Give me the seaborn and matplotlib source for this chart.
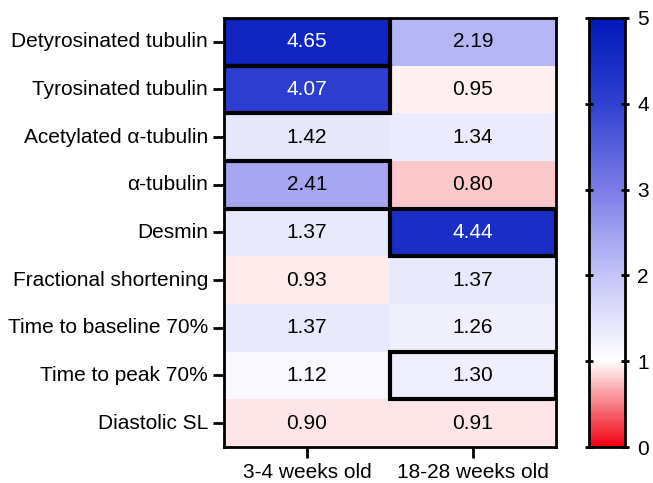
import matplotlib
matplotlib.use("Agg")
import matplotlib.pyplot as plt
import numpy as np
import pandas as pd
import seaborn as sns
from matplotlib.colors import LinearSegmentedColormap
from matplotlib.patches import Rectangle

# dados
rows = ["Detyrosinated tubulin", "Tyrosinated tubulin", "Acetylated α-tubulin",
        "α-tubulin", "Desmin", "Fractional shortening", "Time to baseline 70%",
        "Time to peak 70%", "Diastolic SL"]
cols = ["3-4 weeks old", "18-28 weeks old"]
young = [4.65, 4.07, 1.42, 2.41, 1.37, 0.93, 1.37, 1.12, 0.90]
old = [2.19, 0.95, 1.34, 0.80, 4.44, 1.37, 1.26, 1.30, 0.91]
# células destacadas (linha, coluna)
highlight = [(0, 0), (1, 0), (3, 0), (4, 1), (7, 1)]

df = pd.DataFrame({cols[0]: young, cols[1]: old}, index=rows)

cmap = LinearSegmentedColormap.from_list(
    "rwb",
    [(0.0, "#f00010"), (0.2, "#ffffff"), (0.4, "#c4c4f8"),
     (0.6, "#7c7ce8"), (0.8, "#3040d2"), (1.0, "#0018b8")])

plt.rcParams["font.family"] = ["Liberation Sans", "DejaVu Sans"]

fig = plt.figure(figsize=(6.53, 4.83), dpi=100)
ax = fig.add_axes([0.343, 0.0745, 0.508, 0.8885])
cax = fig.add_axes([0.902, 0.0745, 0.055, 0.8885])

sns.heatmap(df, ax=ax, cbar_ax=cax, cmap=cmap, vmin=0, vmax=5,
            annot=True, fmt=".2f", annot_kws={"fontsize": 15})

# texto branco nas células escuras
for t, v in zip(ax.texts, np.array(df).ravel()):
    t.set_color("white" if v > 3.5 else "black")

for r, c in highlight:
    ax.add_patch(Rectangle((c, r), 1, 1, fill=False, edgecolor="black", lw=3, zorder=5))

for s in ax.spines.values():
    s.set_visible(True)
    s.set_linewidth(2)
ax.tick_params(axis="both", labelsize=15, length=8, width=2, color="black")
ax.set_yticklabels(rows, rotation=0)
ax.set_xticklabels(cols, rotation=0)
ax.set_xlabel("")
ax.set_ylabel("")

cb = ax.collections[0].colorbar
cb.set_ticks([0, 1, 2, 3, 4, 5])
cb.outline.set_visible(True)
cb.outline.set_linewidth(2)
cax.yaxis.set_ticks_position("both")
cax.tick_params(labelsize=15, length=6, width=2, direction="inout",
                left=True, right=True, labelleft=False, labelright=True, pad=6)

fig.savefig("out.png", dpi=100)
